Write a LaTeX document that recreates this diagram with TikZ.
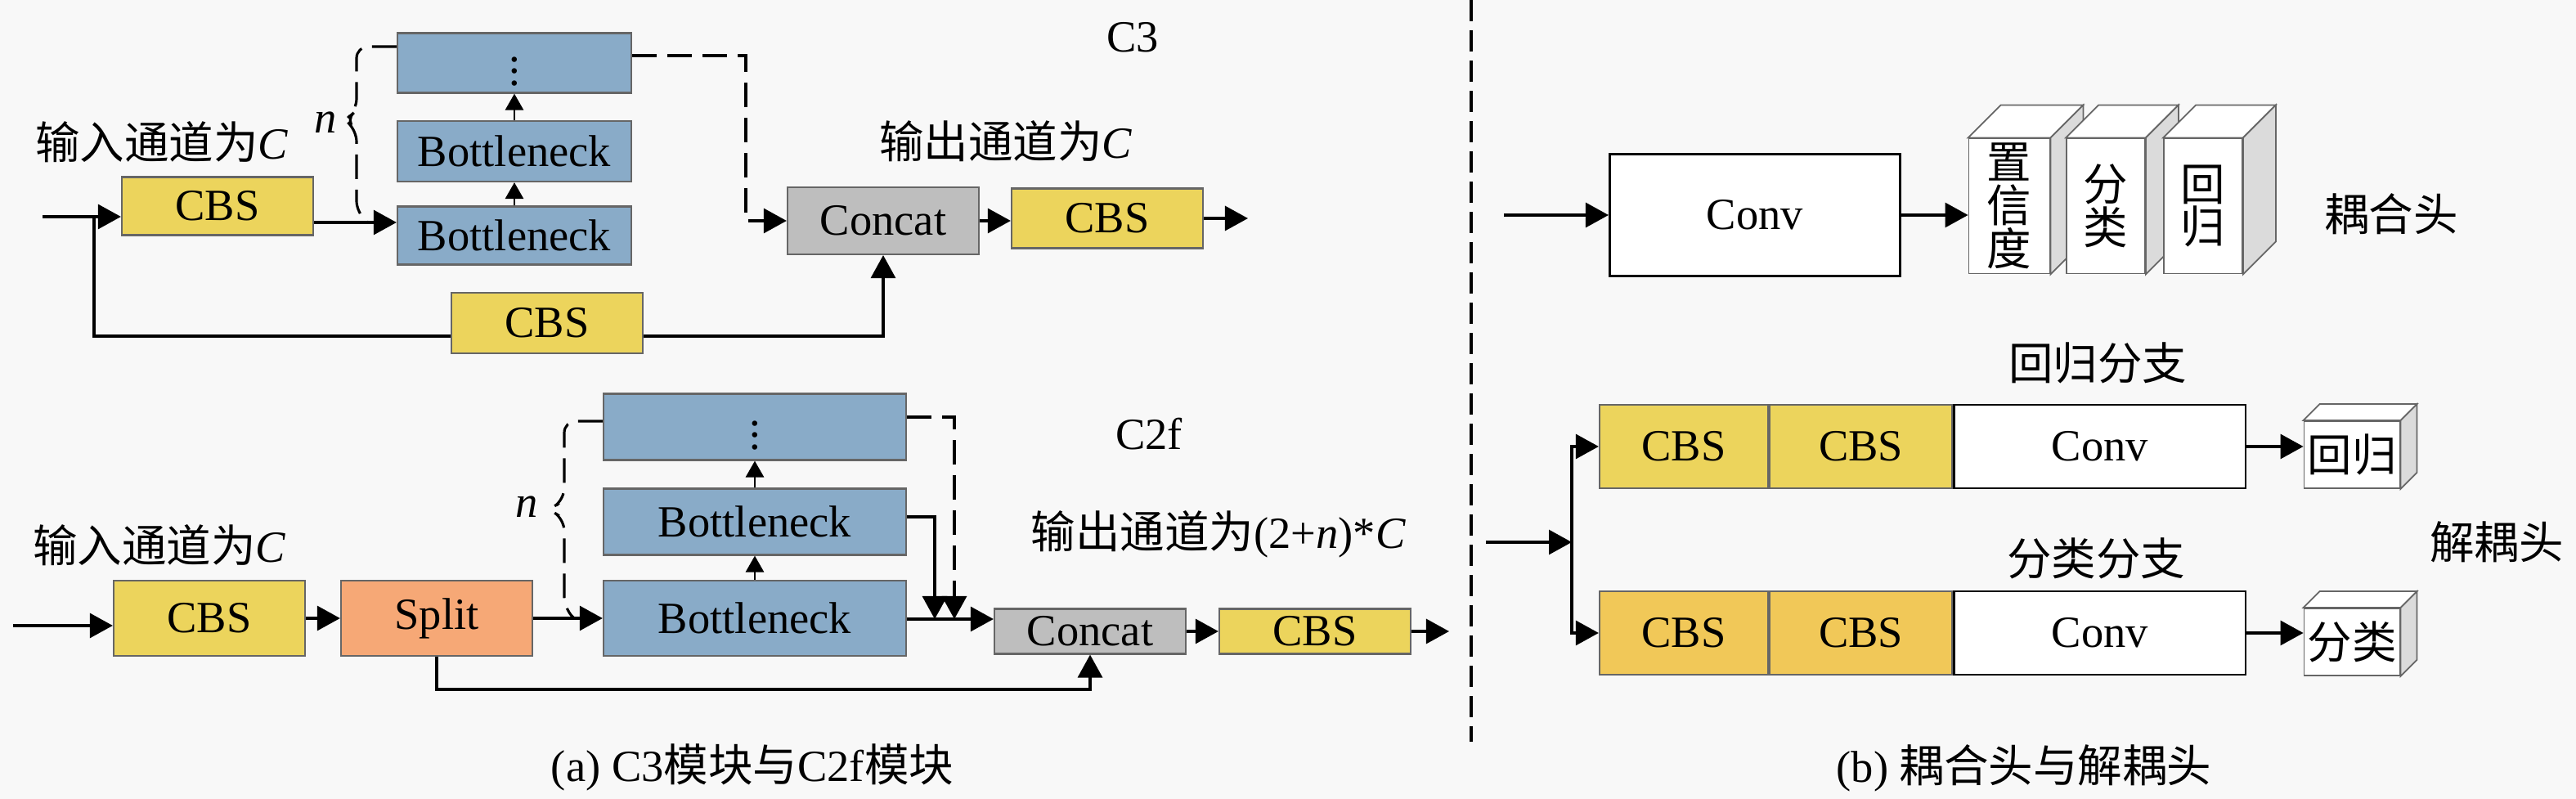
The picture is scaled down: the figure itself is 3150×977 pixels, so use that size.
\documentclass[tikz,border=0pt]{standalone}
\usepackage{fontspec}
\setmainfont{Liberation Serif}
\newfontfamily\cjk{Noto Sans CJK SC}
\newcommand{\zh}[1]{{\cjk #1}}
\usepackage{tikz}
\usetikzlibrary{positioning,arrows.meta,calc}
\definecolor{cbsyellow}{RGB}{236,212,92}
\definecolor{cbsamber}{RGB}{241,200,88}
\definecolor{neckblue}{RGB}{137,171,200}
\definecolor{catgray}{RGB}{190,190,190}
\definecolor{splitorange}{RGB}{246,168,118}
\definecolor{pagebg}{RGB}{248,248,248}
\colorlet{sidegray}{black!14}
\tikzset{
  blk/.style={draw=black!60,line width=0.6pt,inner sep=0pt,minimum width=2.34cm},
  cbs/.style={blk,fill=cbsyellow},
  neck/.style={blk,fill=neckblue,minimum width=2.86cm},
  catbox/.style={blk,fill=catgray},
  splitbox/.style={blk,fill=splitorange},
  convbox/.style={blk,fill=white,draw=black,line width=0.8pt},
  cube/.style={draw=black!60,line width=0.5pt,fill=white,inner sep=0pt},
  vtext/.style={align=center,font=\cjk\fontsize{15.5}{15}\selectfont},
  arr/.style={line width=0.9pt,-{Triangle[length=0.28cm,width=0.3cm]}},
  uparr/.style={line width=0.8pt,-{Triangle[length=0.2cm,width=0.22cm]}},
  dashline/.style={line width=0.9pt,dash pattern=on 0.3cm off 0.13cm},
  divline/.style={line width=0.9pt,dash pattern=on 0.26cm off 0.11cm}
}
\begin{document}
\begin{tikzpicture}[x=0.01cm,y=-0.01cm,every node/.style={font=\fontsize{15.5}{17}\selectfont}]
  \fill[pagebg] (0,0) rectangle (3150,977);
  \useasboundingbox (0,0) rectangle (3150,977);

  % (a) C3
  \node[cbs,minimum height=0.71cm] (cbsA) at (266,252) {CBS};
  \node[neck,minimum height=0.71cm] (bnA) at (629,288) {Bottleneck};
  \node[neck,minimum height=0.74cm] (bnB) at (629,185) {Bottleneck};
  \node[neck,minimum height=0.73cm] (bnC) at (629,77) {$\vdots$};
  \node[cbs,minimum height=0.74cm] (cbsB) at (669,395) {CBS};
  \node[catbox,minimum height=0.82cm] (catA) at (1080,270) {Concat};
  \node[cbs,minimum height=0.73cm] (cbsC) at (1354,267) {CBS};
  \node (inTxtA) at (198,174) {\zh{输入通道为}\textit{C}};
  \node (outTxtA) at (1230,173) {\zh{输出通道为}\textit{C}};
  \node (ttlA) at (1385,46) {C3};
  \node (nA) at (398,150) {\textit{n}};

  \coordinate (inA) at (52,265);
  \coordinate (sA) at (115,265);
  \coordinate (outA) at (1526,267);
  \draw[arr] (inA) -- (cbsA.west |- inA);
  \draw[arr] (cbsA.east |- 0,272) -- (bnA.west |- 0,272);
  \draw[uparr] (bnA.north) -- (bnB.south);
  \draw[uparr] (bnB.north) -- (bnC.south);
  \draw[line width=0.9pt] (sA) |- (cbsB.west |- 0,411);
  \draw[arr] (cbsB.east |- 0,411) -| (catA.south);
  \draw[arr,dashline] (bnC.east |- 0,68) -- (912,68) |- (catA.west);
  \draw[arr] (catA.east) -- (catA.east -| cbsC.west);
  \draw[arr] (cbsC.east) -- (outA |- cbsC.east);
  \draw[dashline,rounded corners=4pt] (bnC.west |- 0,57) -- (436,57) -- (436,135)
    -- (422,147) -- (436,159) -- (436,260) -- (450,272);

  % (a) C2f
  \node[cbs,minimum height=0.92cm] (cbsD) at (256,756) {CBS};
  \node[splitbox,minimum height=0.92cm] (split) at (534,756) {Split};
  \node[neck,minimum width=3.7cm,minimum height=0.92cm] (bnD) at (923,756) {Bottleneck};
  \node[neck,minimum width=3.7cm,minimum height=0.81cm] (bnE) at (923,638) {Bottleneck};
  \node[neck,minimum width=3.7cm,minimum height=0.81cm] (bnF) at (923,522) {$\vdots$};
  \node[catbox,minimum height=0.55cm] (catB) at (1333,772) {Concat};
  \node[cbs,minimum height=0.55cm] (cbsE) at (1608,772) {CBS};
  \node (inTxtB) at (195,667) {\zh{输入通道为}\textit{C}};
  \node (outTxtB) at (1490,653) {\zh{输出通道为}(2+\textit{n})*\textit{C}};
  \node (ttlB) at (1405,531) {C2f};
  \node (nB) at (644,620) {\textit{n}};
  \node (capA) at (920,938) {(a) C3\zh{模块与}C2f\zh{模块}};

  \coordinate (inB) at (16,765);
  \coordinate (outB) at (1772,772);
  \coordinate (jn1) at (1143,757);
  \coordinate (jn2) at (1167,757);
  \draw[arr] (inB) -- (cbsD.west |- inB);
  \draw[arr] (cbsD.east) -- (split.west);
  \draw[arr] (split.east) -- (bnD.west);
  \draw[uparr] (bnD.north) -- (bnE.south);
  \draw[uparr] (bnE.north) -- (bnF.south);
  \draw[arr] (bnD.east |- 0,757) -- (catB.west |- 0,757);
  \draw[arr] (bnE.east |- 0,632) -| (jn1);
  \draw[arr,dashline] (bnF.east |- 0,510) -| (jn2);
  \draw[arr] (split.south) -- ++(0,40) -| (catB.south);
  \draw[arr] (catB.east) -- (cbsE.west);
  \draw[arr] (cbsE.east) -- (outB);
  \draw[dashline,rounded corners=4pt] (bnF.west |- 0,515) -- (690,515) -- (690,611)
    -- (672,623) -- (690,635) -- (690,744) -- (703,757);

  \draw[divline] (1799,0) -- (1799,907);

  % (b) coupled head
  \node[convbox,minimum width=3.55cm,minimum height=1.49cm] (convA) at (2146,263) {Conv};
  \coordinate (inC) at (1839,263);
  \draw[arr] (inC) -- (convA.west);
  \foreach \nm/\xc/\bw/\txt in {hdA/2457/0.99/{置\\信\\度},hdB/2575/0.96/{分\\类},hdC/2694/0.96/{回\\归}}{
    \node[cube,vtext,minimum width=\bw cm,minimum height=1.65cm] (\nm) at (\xc,252) {\txt};
    \draw[cube] (\nm.north west) -- ++(40,-40) -- ($(\nm.north east)+(40,-40)$) -- (\nm.north east) -- cycle;
    \draw[cube,fill=sidegray] (\nm.north east) -- ++(40,-40) -- ($(\nm.south east)+(40,-40)$) -- (\nm.south east) -- cycle;
  }
  \draw[arr] (convA.east) -- (hdA.west |- convA.east);
  \node (coupTxt) at (2924,262) {\zh{耦合头}};

  % (b) decoupled head
  \node[cbs,minimum width=2.06cm,minimum height=1.02cm] (rgA) at (2059,546) {CBS};
  \node[cbs,minimum width=2.23cm,minimum height=1.02cm,right=0pt of rgA] (rgB) {CBS};
  \node[convbox,minimum width=3.56cm,minimum height=1.02cm,right=0pt of rgB] (rgC) {Conv};
  \node[cbs,fill=cbsamber,minimum width=2.06cm,minimum height=1.02cm] (clA) at (2059,774) {CBS};
  \node[cbs,fill=cbsamber,minimum width=2.23cm,minimum height=1.02cm,right=0pt of clA] (clB) {CBS};
  \node[convbox,minimum width=3.56cm,minimum height=1.02cm,right=0pt of clB] (clC) {Conv};
  \foreach \nm/\yc/\txt in {rgOut/556/回归,clOut/785/分类}{
    \node[cube,font=\cjk\fontsize{15.5}{15}\selectfont,minimum width=1.17cm,minimum height=0.82cm] (\nm) at (2876,\yc) {\txt};
    \draw[cube] (\nm.north west) -- ++(20,-20) -- ($(\nm.north east)+(20,-20)$) -- (\nm.north east) -- cycle;
    \draw[cube,fill=sidegray] (\nm.north east) -- ++(20,-20) -- ($(\nm.south east)+(20,-20)$) -- (\nm.south east) -- cycle;
  }
  \coordinate (inD) at (1817,663);
  \coordinate (fork) at (1922,663);
  \draw[arr] (inD) -- (fork);
  \draw[arr] (fork) |- (rgA.west);
  \draw[arr] (fork) |- (clA.west);
  \draw[arr] (rgC.east) -- (rgOut.west |- rgC.east);
  \draw[arr] (clC.east) -- (clOut.west |- clC.east);
  \node (regTxt) at (2565,444) {\zh{回归分支}};
  \node (clsTxt) at (2563,683) {\zh{分类分支}};
  \node (decTxt) at (3053,663) {\zh{解耦头}};
  \node (capB) at (2475,939) {(b) \zh{耦合头与解耦头}};
\end{tikzpicture}
\end{document}
